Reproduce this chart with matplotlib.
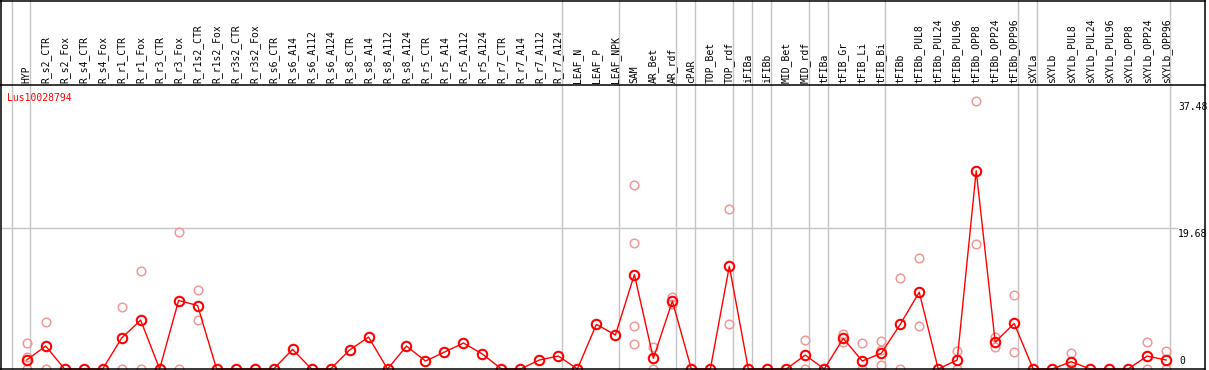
import matplotlib
matplotlib.use('Agg')
import matplotlib.pyplot as plt
from matplotlib.lines import Line2D

gene = 'Lus10028794'

samples = [
    'HYP',
    'R_s2_CTR', 'R_s2_Fox', 'R_s4_CTR', 'R_s4_Fox', 'R_r1_CTR', 'R_r1_Fox',
    'R_r3_CTR', 'R_r3_Fox', 'R_r1s2_CTR', 'R_r1s2_Fox', 'R_r3s2_CTR', 'R_r3s2_Fox',
    'R_s6_CTR', 'R_s6_A14', 'R_s6_A112', 'R_s6_A124',
    'R_s8_CTR', 'R_s8_A14', 'R_s8_A112', 'R_s8_A124',
    'R_r5_CTR', 'R_r5_A14', 'R_r5_A112', 'R_r5_A124',
    'R_r7_CTR', 'R_r7_A14', 'R_r7_A112', 'R_r7_A124',
    'LEAF_N', 'LEAF_P', 'LEAF_NPK',
    'SAM', 'AR_Bet', 'AR_rdf', 'cPAR', 'TOP_Bet', 'TOP_rdf',
    'iFIBa', 'iFIBb', 'MID_Bet', 'MID_rdf', 'tFIBa',
    'tFIB_Gr', 'tFIB_Li', 'tFIB_Bi',
    'tFIBb', 'tFIBb_PUL8', 'tFIBb_PUL24', 'tFIBb_PUL96',
    'tFIBb_OPP8', 'tFIBb_OPP24', 'tFIBb_OPP96',
    'sXYLa', 'sXYLb', 'sXYLb_PUL8', 'sXYLb_PUL24', 'sXYLb_PUL96',
    'sXYLb_OPP8', 'sXYLb_OPP24', 'sXYLb_OPP96',
]

means = [
    1.26,
    3.21, 0, 0, 0, 4.33, 6.84,
    0, 9.58, 8.88, 0, 0, 0,
    0, 2.74, 0, 0,
    2.65, 4.47, 0, 3.21,
    1.12, 2.37, 3.63, 2.09,
    0, 0, 1.26, 1.81,
    0, 6.25, 4.75,
    13.21, 1.49, 9.49, 0, 0, 14.38,
    0, 0, 0, 1.95, 0,
    4.28, 1.12, 2.19,
    6.25, 10.75, 0, 1.26,
    27.73, 3.77, 6.37,
    0, 0, 1.02, 0, 0,
    0, 1.81, 1.26,
]

# single replicate values (faint circles)
replicates = {
    'HYP': [3.58, 1.63, 0],
    'R_s2_CTR': [6.51, 0],
    'R_r1_CTR': [8.61, 0],
    'R_r1_Fox': [13.68, 0],
    'R_r3_Fox': [19.2, 0],
    'R_r1s2_CTR': [11.1, 6.84],
    'SAM': [25.68, 17.68, 6.0, 3.44],
    'AR_Bet': [3.11, 0],
    'AR_rdf': [10.1, 9.07],
    'TOP_rdf': [22.42, 6.28],
    'MID_rdf': [4.05, 0],
    'tFIB_Gr': [4.84, 3.81],
    'tFIB_Li': [3.58, 0],
    'tFIB_Bi': [3.91, 2.65, 0.56],
    'tFIBb': [12.66, 0],
    'tFIBb_PUL8': [15.58, 5.95],
    'tFIBb_PUL96': [2.51, 0],
    'tFIBb_OPP8': [37.48, 17.54],
    'tFIBb_OPP24': [4.51, 3.02],
    'tFIBb_OPP96': [10.42, 2.33],
    'sXYLb_PUL8': [2.19, 0],
    'sXYLb_OPP24': [3.72, 0],
    'sXYLb_OPP96': [2.51, 0],
}

# group separators come right after these samples ('' = before first)
group_ends = ['', 'HYP', 'R_r7_A124', 'LEAF_NPK', 'AR_rdf', 'cPAR', 'TOP_rdf',
              'iFIBa', 'iFIBb', 'MID_rdf', 'tFIBa', 'tFIB_Bi', 'tFIBb_OPP96',
              'sXYLa', 'sXYLb_OPP96']

y_labels = [37.48, 19.68, 0]
y_grid = [19.68]

W, H = 1209, 370
RED = '#ff0000'
PINK = '#f09898'
GRID = '#c4c4c4'
FONT = 'DejaVu Sans Mono'


def fx(px):
    return px / W


def fy(py):
    return 1 - py / H


fig = plt.figure(figsize=(W / 100, H / 100), dpi=100)
# plot region in pixels
L, R, T, B = 1, 1205, 85, 369
ax = fig.add_axes([fx(L), fy(B), fx(R) - fx(L), fy(T) - fy(B)])
for s in ax.spines.values():
    s.set_visible(False)
ax.set_xticks([])
ax.set_yticks([])

x0, dx = 26.7, 18.99       # pixel of first column, column pitch
ppu = 140.7 / 19.68        # pixels per unit
ax.set_xlim((L - x0) / dx, (R - x0) / dx)
ax.set_ylim(0, (B - T) / ppu)

xs = list(range(len(samples)))
ext = (B - 0) / (B - T)    # vertical grid goes up through the label area

for name in group_ends:
    pos = -1 if name == '' else samples.index(name)
    ax.axvline(pos + 0.2, ymin=0, ymax=ext, color=GRID, lw=1, clip_on=False, zorder=1)

for v in y_grid:
    ax.plot([ax.get_xlim()[0], (1177 - x0) / dx], [v, v], color=GRID, lw=1, zorder=1)

# replicates
for name, vals in replicates.items():
    i = samples.index(name)
    ax.plot([i] * len(vals), vals, ls='none', marker='o', ms=6.2, mfc='none',
            mec=PINK, mew=1.1, clip_on=False, zorder=2)

ax.plot(xs, means, color=RED, lw=1, marker='o', ms=6.8, mfc='none', mec=RED,
        mew=1.5, clip_on=False, zorder=3)

# column labels
for i, name in enumerate(samples):
    fig.text(fx(x0 + i * dx), fy(83), name, rotation=90, ha='center', va='bottom',
             fontsize=7, family=FONT, color='black')

# value labels on the right
for v in y_labels:
    py = B - v * ppu
    if v == 0:
        fig.text(fx(1179), fy(py - 3), '0', ha='left', va='bottom', fontsize=7, family=FONT)
    else:
        fig.text(fx(1178), fy(py + 1), f'{v:.2f}', ha='left', va='top', fontsize=7, family=FONT)

fig.text(fx(7), fy(98), gene, ha='left', va='center', fontsize=7, family=FONT, color=RED)

# frame + header separator
for (xa, ya, xb, yb) in [(0, 0.5, R, 0.5), (1, 0, 1, B), (R, 0, R, B),
                         (0, B, R, B), (0, T, R, T)]:
    fig.add_artist(Line2D([fx(xa), fx(xb)], [fy(ya), fy(yb)], color='black', lw=1.1))

fig.savefig('out.png', dpi=100)
